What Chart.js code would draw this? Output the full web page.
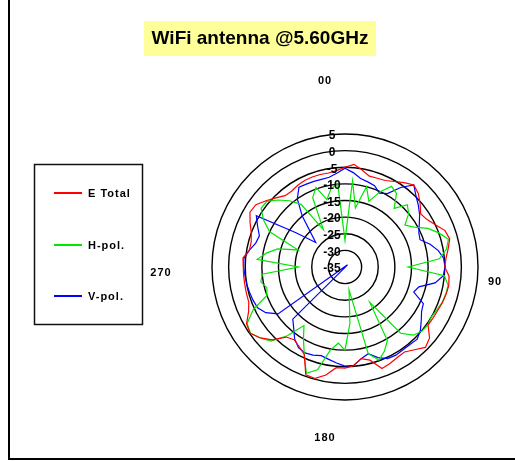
<!DOCTYPE html>
<html>
<head>
<meta charset="utf-8">
<title>WiFi antenna @5.60GHz</title>
<script src="https://cdn.jsdelivr.net/npm/chart.js@4.4.1/dist/chart.umd.min.js"></script>
<style>
  html, body { margin: 0; padding: 0; background: #fff; }
</style>
</head>
<body>
<canvas id="polar" width="515" height="461"></canvas>
<script>
'use strict';

// angle of each sample, clockwise from the top
const ANGLES = ['0', '5', '10', '15', '20', '25', '30', '35', '40', '45', '50', '55',
  '60', '65', '70', '75', '80', '85', '90', '95', '100', '105', '110', '115',
  '120', '125', '130', '135', '140', '145', '150', '155', '160', '165', '170', '175',
  '180', '185', '190', '195', '200', '205', '210', '215', '220', '225', '230', '235',
  '240', '245', '250', '255', '260', '265', '270', '275', '280', '285', '290', '295',
  '300', '305', '310', '315', '320', '325', '330', '335', '340', '345', '350', '355'];

const E_TOTAL = [-5.0, -4.0, -5.4, -6.7, -6.6, -6.3, -5.3, -4.0, -2.8, -3.8, -5.5, -7.2,
  -6.5, -5.0, -3.0, -2.4, -3.5, -4.5, -5.0, -3.6, -3.3, -3.5, -3.8, -4.2,
  -4.4, -4.5, -1.8, -0.8, -2.5, -3.8, -3.6, -3.0, -2.5, -6.0, -7.0, -5.2,
  -4.6, -4.6, -2.0, -0.3, -0.5, -6.0, -7.4, -8.3, -7.5, -4.0, -1.8, -0.2,
  -0.8, -3.0, -4.2, -4.3, -4.4, -4.4, -4.4, -4.2, -5.8, -5.8, -5.0, -3.5,
  -2.0, -2.3, -4.0, -5.6, -7.0, -7.1, -6.6, -6.3, -6.2, -6.2, -6.3, -5.9];

const H_POL = [-27, -9, -17, -10, -14, -10, -7, -8, -12, -8.5, -10, -13,
  -11, -7.5, -5, -2.8, -4, -6.5, -16, -5, -3.5, -3.6, -3.9, -4.5,
  -5, -4.6, -4.9, -6, -9, -22, -9.5, -7, -5.2, -8, -28, -18,
  -10, -12, -9.6, -3, -1, -6, -10, -13.5, -8, -3.5, -1.8, -0.3,
  -1, -4.5, -10, -10.7, -9.3, -10, -21, -8.5, -11, -14, -20, -10,
  -6.7, -4.2, -4.3, -6.5, -9, -12, -22, -12, -9.5, -14, -11, -10];

const V_POL = [-5.3, -6.5, -8, -8.5, -9, -10.5, -9.5, -5.8, -2.8, -4.8, -6.2, -7.6,
  -9.2, -10.5, -11, -8.5, -6.5, -5.2, -4.9, -5.3, -7.5, -12, -13, -9,
  -8.4, -7, -5.4, -4.3, -4.6, -4.6, -4.4, -4.6, -6, -8, -7, -5.3,
  -5.2, -6, -6.8, -7.4, -6.8, -6.5, -7, -8.6, -11, -12.8, -36, -10.4,
  -7.5, -6, -5.6, -5.3, -5, -4.8, -4.5, -4.5, -5.8, -7.2, -7.6, -6,
  -4.2, -17, -23.5, -20.5, -15, -10, -7.3, -7.5, -7.6, -7.7, -7.6, -6.7];

const SERIES_NAMES = ['E Total', 'H-pol.', 'V-pol.'];
const SERIES_COLORS = ['#ff0000', '#00e600', '#0000ff'];
const DIRECTION_LABELS = ['00', '90', '180', '270'];
const TITLE_TEXT = 'WiFi antenna @5.60GHz';

const SCALE_MIN = -35,
  SCALE_MAX = 5,
  SCALE_STEP = 5;

const FONT = '"Liberation Sans", Arial, sans-serif';

// title box, frame, boxed legend
const decorPlugin = {
  id: 'decor',
  beforeDraw(chart) {
    const ctx = chart.ctx;
    ctx.save();
    ctx.fillStyle = '#fff';
    ctx.fillRect(0, 0, chart.width, chart.height);

    ctx.fillStyle = '#ffff99';
    ctx.fillRect(144, 21, 232, 35);
    ctx.fillStyle = '#000';
    ctx.font = 'bold 19px ' + FONT;
    ctx.textAlign = 'center';
    ctx.textBaseline = 'middle';
    ctx.fillText(TITLE_TEXT, 260, 39);

    ctx.strokeStyle = '#000';
    ctx.lineWidth = 2;
    ctx.beginPath();
    ctx.moveTo(9, 0);
    ctx.lineTo(9, 459);
    ctx.lineTo(515, 459);
    ctx.stroke();

    ctx.lineWidth = 1.5;
    ctx.strokeStyle = '#111';
    ctx.strokeRect(34.5, 164.5, 108, 160);
    const rows = [193, 245, 296];
    ctx.font = 'bold 11px ' + FONT;
    if ('letterSpacing' in ctx) ctx.letterSpacing = '1px';
    ctx.textAlign = 'left';
    for (let i = 0; i < SERIES_NAMES.length; i++) {
      ctx.strokeStyle = SERIES_COLORS[i];
      ctx.lineWidth = 2;
      ctx.beginPath();
      ctx.moveTo(54, rows[i]);
      ctx.lineTo(82, rows[i]);
      ctx.stroke();
      ctx.fillStyle = '#000';
      ctx.fillText(SERIES_NAMES[i], 88, rows[i] + 1);
    }
    ctx.restore();
  },
  afterDraw(chart) {
    const ctx = chart.ctx,
      scale = chart.scales.r;
    ctx.save();
    // ring values, drawn a little left of the centre line
    ctx.fillStyle = '#000';
    ctx.font = 'bold 12px ' + FONT;
    ctx.textAlign = 'center';
    ctx.textBaseline = 'middle';
    scale.ticks.forEach(function (tick) {
      const d = scale.getDistanceFromCenterForValue(tick.value);
      ctx.fillText(String(tick.value), scale.xCenter - 13, scale.yCenter - d + 2);
    });
    // compass labels
    ctx.font = 'bold 11px ' + FONT;
    if ('letterSpacing' in ctx) ctx.letterSpacing = '1px';
    const spots = [[-20, -186], [150, 15], [-20, 171], [-184, 6]];
    for (let i = 0; i < DIRECTION_LABELS.length; i++) {
      ctx.fillText(DIRECTION_LABELS[i], scale.xCenter + spots[i][0], scale.yCenter + spots[i][1]);
    }
    ctx.restore();
  }
};

function dataset(label, values, color) {
  return {
    label: label,
    data: values,
    borderColor: color,
    backgroundColor: color,
    borderWidth: 1.2,
    pointRadius: 0,
    pointHoverRadius: 0,
    fill: false,
    tension: 0
  };
}

new Chart(document.getElementById('polar'), {
  type: 'radar',
  data: {
    labels: ANGLES,
    datasets: [
      dataset(SERIES_NAMES[0], E_TOTAL, SERIES_COLORS[0]),
      dataset(SERIES_NAMES[1], H_POL, SERIES_COLORS[1]),
      dataset(SERIES_NAMES[2], V_POL, SERIES_COLORS[2])
    ]
  },
  options: {
    responsive: false,
    animation: false,
    layout: { padding: { left: 212, right: 37, top: 134, bottom: 61 } },
    plugins: {
      legend: { display: false },
      title: { display: false },
      tooltip: { enabled: false }
    },
    scales: {
      r: {
        min: SCALE_MIN,
        max: SCALE_MAX,
        ticks: { display: false, stepSize: SCALE_STEP },
        pointLabels: { display: false },
        angleLines: { display: false },
        grid: { circular: true, color: '#000', lineWidth: 1.4 }
      }
    }
  },
  plugins: [decorPlugin]
});
</script>
</body>
</html>
